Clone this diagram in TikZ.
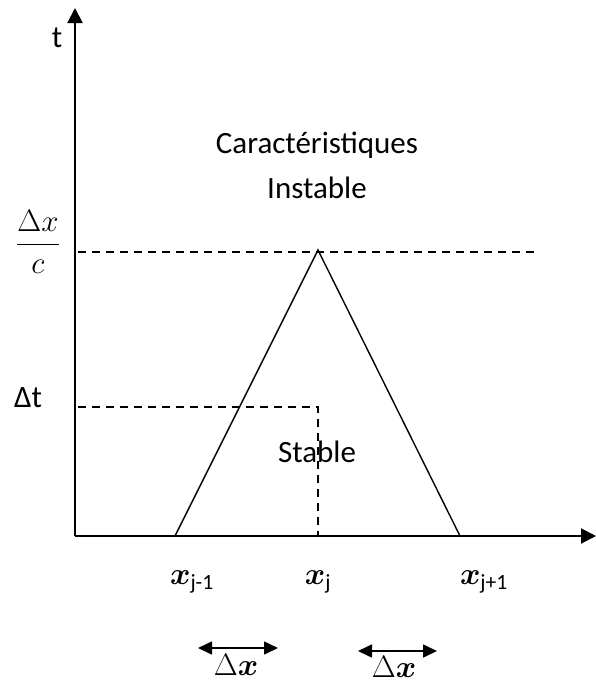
\RequirePackage{fix-cm}
\documentclass[tikz,border=0pt]{standalone}
\usepackage{amsmath,bm}
\usepackage{fontspec}
\setmainfont{Carlito}
\usetikzlibrary{arrows.meta, positioning}
\tikzset{
  axis/.style  = {line width=2pt, -{Triangle[length=15pt,width=15pt]}},
  wedge/.style = {line width=1.4pt},
  level/.style = {line width=1.4pt, dash pattern=on 8pt off 6pt},
  span/.style  = {line width=1.6pt, {Triangle[length=14pt,width=13pt]}-{Triangle[length=14pt,width=13pt]}},
  lbl/.style   = {font=\fontsize{31}{36}\selectfont, inner sep=1pt}
}

\begin{document}
\begin{tikzpicture}[x=1pt, y=-1pt]
\useasboundingbox (0,0) rectangle (596,683);
% axes
\coordinate (O) at (75,536);
\coordinate (tend) at (75,8);
\coordinate (xend) at (596,536);
\draw[axis] (O) -- (tend);
\draw[axis] (O) -- (xend);
% characteristic triangle
\coordinate (left) at (175,536);
\coordinate (apex) at (318,250);
\coordinate (right) at (460,536);
\draw[wedge] (left) -- (apex) -- (right);
% levels
\coordinate (cl) at (78,252);
\coordinate (cr) at (535,252);
\coordinate (tl) at (78,407);
\coordinate (tc) at (318,407);
\coordinate (tb) at (318,536);
\draw[level] (cl) -- (cr);
\draw[level] (tl) -- (tc) -- (tb);
% labels
\node[lbl] (tlab) at (57,38) {t};
\node[lbl] (dxc) at (38,242) {$\dfrac{\Delta x}{c}$};
\node[lbl] (dtlab) at (28,398) {Δt};
\node[lbl] (carac) at (317,145) {Caractéristiques};
\node[lbl] (inst) at (317,188) {Instable};
\node[lbl] (stab) at (317,452) {Stable};
\node[lbl] (xjm) at (192,582) {$\bm{x}$\textsubscript{j-1}};
\node[lbl] (xj) at (318,582) {$\bm{x}$\textsubscript{j}};
\node[lbl] (xjp) at (484,582) {$\bm{x}$\textsubscript{j+1}};
% spacing arrows
\coordinate (a1l) at (198,648);
\coordinate (a1r) at (278,648);
\coordinate (a2l) at (358,651);
\coordinate (a2r) at (437,651);
\draw[span] (a1l) -- (a1r);
\draw[span] (a2l) -- (a2r);
\node[lbl, inner sep=0pt] (dx1) at (236,665) {$\Delta\bm{x}$};
\node[lbl, inner sep=0pt] (dx2) at (394,667) {$\Delta\bm{x}$};
\end{tikzpicture}
\end{document}
